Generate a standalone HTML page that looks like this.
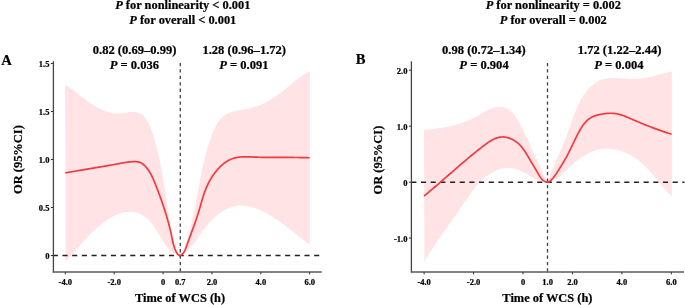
<!DOCTYPE html>
<html><head><meta charset="utf-8"><style>
html,body{margin:0;padding:0;background:#fff;}
body{width:685px;height:305px;overflow:hidden;}
svg{display:block;will-change:transform;}
text{font-family:"Liberation Serif",serif;font-weight:bold;fill:#000;stroke:#000;stroke-width:0.22px;}
</style></head><body>
<svg width="685" height="305" viewBox="0 0 685 305">
<path d="M65.20,84.30L65.80,84.71L66.40,85.13L67.00,85.56L67.60,85.98L68.20,86.42L68.80,86.85L69.40,87.29L70.00,87.74L70.59,88.18L71.19,88.63L71.79,89.09L72.39,89.54L72.98,90.00L73.58,90.46L74.18,90.92L74.78,91.39L75.37,91.85L75.97,92.32L76.57,92.79L77.17,93.26L77.77,93.73L78.37,94.20L78.97,94.67L79.57,95.14L80.17,95.61L80.78,96.07L81.38,96.54L81.99,97.01L82.59,97.48L83.20,97.94L83.81,98.40L84.42,98.86L85.03,99.32L85.65,99.78L86.26,100.23L86.88,100.68L87.50,101.12L88.12,101.57L88.74,102.01L89.36,102.44L89.99,102.88L90.62,103.30L91.25,103.73L91.88,104.14L92.52,104.56L93.15,104.97L93.79,105.37L94.43,105.76L95.08,106.15L95.72,106.54L96.37,106.92L97.03,107.29L97.68,107.65L98.34,108.01L99.00,108.36L99.67,108.70L100.33,109.04L101.00,109.36L101.68,109.68L102.36,109.99L103.04,110.29L103.72,110.58L104.41,110.86L105.10,111.13L105.79,111.39L106.49,111.64L107.19,111.87L107.90,112.09L108.61,112.30L109.32,112.50L110.04,112.68L110.76,112.84L111.49,112.99L112.22,113.13L112.95,113.25L113.69,113.35L114.43,113.44L115.18,113.51L115.93,113.56L116.68,113.59L117.44,113.60L118.20,113.59L118.97,113.57L119.74,113.52L120.52,113.45L121.30,113.37L122.08,113.28L122.87,113.18L123.65,113.07L124.44,112.95L125.22,112.83L126.01,112.71L126.79,112.59L127.57,112.48L128.35,112.37L129.13,112.27L129.90,112.19L130.66,112.11L131.43,112.06L132.18,112.02L132.93,112.00L133.67,112.00L134.40,112.03L135.12,112.08L135.84,112.16L136.54,112.27L137.22,112.40L137.89,112.56L138.55,112.75L139.19,112.97L139.81,113.23L140.42,113.52L141.01,113.85L141.57,114.21L142.12,114.61L142.65,115.04L143.16,115.50L143.65,115.99L144.13,116.50L144.59,117.04L145.04,117.61L145.47,118.19L145.89,118.79L146.29,119.42L146.69,120.05L147.07,120.70L147.44,121.36L147.80,122.04L148.15,122.72L148.50,123.40L148.83,124.09L149.16,124.79L149.48,125.48L149.79,126.18L150.10,126.88L150.40,127.59L150.69,128.29L150.98,129.00L151.26,129.71L151.54,130.43L151.80,131.14L152.07,131.86L152.32,132.58L152.58,133.30L152.82,134.02L153.07,134.75L153.30,135.47L153.54,136.20L153.77,136.93L153.99,137.66L154.21,138.39L154.43,139.12L154.64,139.85L154.85,140.59L155.05,141.32L155.26,142.05L155.46,142.79L155.65,143.53L155.85,144.26L156.04,145.00L156.23,145.73L156.42,146.47L156.60,147.21L156.79,147.94L156.97,148.68L157.15,149.41L157.33,150.15L157.50,150.89L157.68,151.62L157.85,152.36L158.02,153.09L158.19,153.83L158.35,154.57L158.52,155.30L158.68,156.04L158.85,156.77L159.01,157.51L159.16,158.25L159.32,158.98L159.48,159.72L159.63,160.46L159.78,161.19L159.94,161.93L160.09,162.66L160.23,163.40L160.38,164.14L160.53,164.87L160.67,165.61L160.82,166.35L160.96,167.08L161.10,167.82L161.24,168.56L161.38,169.29L161.52,170.03L161.65,170.77L161.79,171.50L161.92,172.24L162.06,172.98L162.19,173.71L162.32,174.45L162.45,175.19L162.58,175.93L162.71,176.66L162.84,177.40L162.96,178.14L163.09,178.88L163.21,179.62L163.34,180.35L163.46,181.09L163.59,181.83L163.71,182.57L163.83,183.31L163.95,184.05L164.08,184.79L164.20,185.53L164.32,186.26L164.44,187.00L164.56,187.74L164.67,188.48L164.79,189.22L164.91,189.96L165.03,190.70L165.15,191.44L165.26,192.18L165.38,192.93L165.50,193.67L165.61,194.41L165.73,195.15L165.85,195.89L165.96,196.63L166.08,197.37L166.20,198.12L166.31,198.86L166.43,199.60L166.54,200.34L166.66,201.09L166.78,201.83L166.89,202.57L167.01,203.32L167.13,204.06L167.24,204.81L167.36,205.55L167.48,206.29L167.60,207.04L167.72,207.78L167.84,208.53L167.95,209.28L168.07,210.02L168.19,210.77L168.31,211.51L168.44,212.26L168.56,213.01L168.68,213.75L168.80,214.50L168.93,215.25L169.05,215.99L169.18,216.74L169.30,217.49L169.43,218.23L169.56,218.98L169.68,219.73L169.81,220.47L169.94,221.22L170.08,221.96L170.21,222.71L170.34,223.45L170.48,224.20L170.61,224.94L170.75,225.69L170.89,226.43L171.03,227.17L171.17,227.92L171.31,228.66L171.46,229.40L171.60,230.14L171.75,230.88L171.90,231.62L172.05,232.36L172.20,233.10L172.35,233.84L172.51,234.58L172.66,235.32L172.82,236.05L172.98,236.79L173.14,237.52L173.31,238.25L173.47,238.99L173.64,239.72L173.81,240.45L173.98,241.18L174.16,241.91L174.33,242.64L174.51,243.36L174.69,244.09L174.88,244.81L175.07,245.53L175.27,246.25L175.48,246.96L175.70,247.66L175.94,248.36L176.19,249.05L176.46,249.74L176.75,250.41L177.07,251.08L177.40,251.73L177.76,252.38L178.15,253.01L178.56,253.63L179.01,254.23L179.49,254.83L180.00,255.40L180.47,254.80L180.92,254.20L181.35,253.58L181.76,252.96L182.16,252.33L182.53,251.69L182.89,251.04L183.23,250.39L183.55,249.73L183.87,249.06L184.17,248.39L184.46,247.71L184.74,247.03L185.01,246.34L185.27,245.65L185.52,244.95L185.77,244.25L186.01,243.54L186.25,242.84L186.49,242.13L186.72,241.42L186.95,240.70L187.17,239.99L187.40,239.27L187.62,238.55L187.83,237.82L188.05,237.10L188.26,236.37L188.47,235.64L188.67,234.91L188.87,234.18L189.07,233.45L189.27,232.72L189.47,231.98L189.66,231.24L189.85,230.51L190.04,229.77L190.22,229.03L190.41,228.29L190.59,227.54L190.77,226.80L190.95,226.06L191.12,225.32L191.30,224.57L191.47,223.83L191.64,223.09L191.81,222.34L191.97,221.60L192.14,220.86L192.30,220.11L192.46,219.37L192.62,218.63L192.78,217.89L192.94,217.14L193.09,216.40L193.25,215.66L193.40,214.92L193.55,214.18L193.70,213.44L193.85,212.70L194.00,211.96L194.15,211.22L194.30,210.48L194.44,209.74L194.59,209.00L194.73,208.27L194.88,207.53L195.02,206.79L195.16,206.05L195.30,205.31L195.44,204.58L195.58,203.84L195.72,203.10L195.86,202.37L195.99,201.63L196.13,200.90L196.27,200.16L196.41,199.42L196.54,198.69L196.68,197.95L196.81,197.22L196.95,196.48L197.08,195.75L197.22,195.01L197.35,194.28L197.49,193.55L197.62,192.81L197.76,192.08L197.89,191.34L198.03,190.61L198.17,189.88L198.30,189.14L198.44,188.41L198.57,187.68L198.71,186.94L198.85,186.21L198.98,185.48L199.12,184.75L199.26,184.01L199.40,183.28L199.54,182.55L199.68,181.81L199.82,181.08L199.96,180.35L200.10,179.62L200.25,178.88L200.39,178.15L200.54,177.42L200.68,176.69L200.83,175.95L200.98,175.22L201.12,174.49L201.27,173.76L201.43,173.02L201.58,172.29L201.73,171.56L201.89,170.83L202.04,170.09L202.20,169.36L202.36,168.63L202.52,167.90L202.68,167.16L202.84,166.43L203.01,165.70L203.17,164.97L203.34,164.23L203.51,163.50L203.68,162.77L203.86,162.03L204.03,161.30L204.21,160.56L204.39,159.83L204.57,159.10L204.75,158.36L204.94,157.63L205.12,156.89L205.31,156.16L205.50,155.43L205.70,154.69L205.89,153.96L206.09,153.22L206.29,152.49L206.49,151.75L206.70,151.01L206.90,150.28L207.11,149.54L207.33,148.81L207.54,148.07L207.76,147.33L207.98,146.60L208.20,145.86L208.43,145.12L208.66,144.38L208.89,143.65L209.12,142.91L209.36,142.17L209.60,141.43L209.84,140.69L210.09,139.95L210.34,139.21L210.59,138.47L210.84,137.73L211.10,136.99L211.37,136.25L211.63,135.52L211.90,134.78L212.18,134.04L212.46,133.31L212.74,132.58L213.03,131.86L213.33,131.13L213.63,130.42L213.94,129.71L214.26,129.00L214.58,128.30L214.91,127.61L215.25,126.92L215.59,126.25L215.95,125.58L216.31,124.92L216.68,124.27L217.06,123.63L217.45,123.00L217.85,122.38L218.26,121.78L218.68,121.18L219.11,120.60L219.55,120.03L220.01,119.48L220.47,118.94L220.95,118.41L221.43,117.90L221.94,117.41L222.45,116.93L222.98,116.47L223.52,116.03L224.07,115.60L224.64,115.19L225.22,114.81L225.82,114.44L226.43,114.09L227.06,113.76L227.70,113.45L228.35,113.16L229.02,112.88L229.69,112.62L230.38,112.37L231.08,112.14L231.78,111.92L232.50,111.71L233.23,111.51L233.96,111.32L234.70,111.14L235.45,110.97L236.20,110.81L236.96,110.66L237.72,110.51L238.49,110.36L239.26,110.22L240.03,110.08L240.81,109.95L241.59,109.82L242.36,109.68L243.14,109.55L243.92,109.42L244.70,109.28L245.48,109.14L246.25,109.00L247.02,108.85L247.79,108.70L248.56,108.54L249.32,108.38L250.07,108.20L250.82,108.02L251.57,107.83L252.31,107.63L253.05,107.43L253.78,107.21L254.50,106.99L255.22,106.76L255.94,106.53L256.65,106.29L257.36,106.04L258.06,105.78L258.76,105.51L259.46,105.24L260.15,104.96L260.84,104.68L261.52,104.39L262.20,104.09L262.87,103.78L263.54,103.47L264.21,103.15L264.88,102.83L265.54,102.50L266.19,102.16L266.85,101.82L267.50,101.47L268.14,101.11L268.79,100.75L269.43,100.38L270.07,100.01L270.70,99.63L271.33,99.25L271.96,98.86L272.59,98.47L273.21,98.07L273.84,97.66L274.46,97.25L275.07,96.84L275.69,96.42L276.30,95.99L276.91,95.56L277.52,95.13L278.12,94.69L278.72,94.25L279.33,93.80L279.93,93.35L280.52,92.89L281.12,92.43L281.72,91.97L282.31,91.50L282.90,91.03L283.49,90.55L284.08,90.07L284.67,89.59L285.26,89.11L285.85,88.62L286.43,88.13L287.02,87.64L287.60,87.15L288.19,86.66L288.78,86.17L289.36,85.68L289.95,85.19L290.54,84.69L291.12,84.20L291.71,83.71L292.30,83.23L292.89,82.74L293.49,82.26L294.08,81.77L294.67,81.30L295.27,80.82L295.87,80.35L296.47,79.88L297.07,79.42L297.68,78.96L298.28,78.50L298.89,78.05L299.51,77.61L300.12,77.17L300.74,76.73L301.36,76.31L301.99,75.89L302.62,75.48L303.25,75.07L303.88,74.67L304.52,74.28L305.17,73.90L305.81,73.53L306.47,73.17L307.12,72.81L307.79,72.47L308.45,72.14L309.12,71.81L309.80,71.50L309.80,244.50L309.15,244.05L308.50,243.60L307.86,243.15L307.23,242.69L306.59,242.24L305.97,241.79L305.34,241.33L304.72,240.88L304.11,240.42L303.50,239.97L302.89,239.51L302.28,239.06L301.68,238.60L301.08,238.15L300.48,237.69L299.89,237.24L299.29,236.78L298.70,236.32L298.12,235.87L297.53,235.41L296.95,234.95L296.36,234.50L295.78,234.04L295.20,233.59L294.62,233.13L294.04,232.68L293.46,232.22L292.88,231.77L292.30,231.31L291.73,230.86L291.15,230.40L290.57,229.95L289.99,229.50L289.41,229.05L288.83,228.59L288.25,228.14L287.67,227.69L287.08,227.24L286.50,226.79L285.91,226.35L285.32,225.90L284.73,225.45L284.14,225.00L283.54,224.56L282.94,224.11L282.34,223.67L281.73,223.23L281.13,222.79L280.52,222.35L279.90,221.91L279.28,221.47L278.66,221.03L278.04,220.60L277.41,220.16L276.77,219.73L276.13,219.30L275.49,218.87L274.84,218.44L274.19,218.01L273.54,217.59L272.88,217.17L272.21,216.75L271.55,216.34L270.88,215.93L270.20,215.52L269.53,215.12L268.85,214.72L268.17,214.33L267.48,213.94L266.79,213.55L266.10,213.18L265.41,212.81L264.71,212.44L264.01,212.08L263.31,211.73L262.61,211.38L261.91,211.05L261.20,210.71L260.49,210.39L259.78,210.08L259.07,209.77L258.36,209.47L257.64,209.18L256.92,208.90L256.21,208.63L255.49,208.37L254.77,208.12L254.05,207.88L253.33,207.65L252.61,207.43L251.88,207.22L251.16,207.03L250.44,206.84L249.72,206.67L248.99,206.50L248.27,206.36L247.55,206.22L246.83,206.10L246.10,205.99L245.38,205.89L244.66,205.81L243.94,205.74L243.22,205.68L242.50,205.64L241.78,205.62L241.07,205.61L240.35,205.61L239.64,205.64L238.92,205.67L238.21,205.73L237.50,205.80L236.80,205.88L236.09,205.99L235.39,206.11L234.68,206.25L233.98,206.40L233.29,206.58L232.59,206.77L231.90,206.97L231.21,207.19L230.52,207.43L229.84,207.68L229.16,207.95L228.48,208.23L227.80,208.53L227.13,208.84L226.46,209.16L225.80,209.50L225.13,209.85L224.48,210.21L223.82,210.58L223.17,210.97L222.52,211.37L221.88,211.78L221.24,212.20L220.60,212.64L219.97,213.08L219.34,213.54L218.72,214.00L218.10,214.47L217.49,214.96L216.88,215.45L216.28,215.95L215.68,216.46L215.08,216.98L214.50,217.50L213.91,218.03L213.33,218.57L212.76,219.12L212.19,219.67L211.63,220.23L211.07,220.80L210.52,221.37L209.98,221.95L209.44,222.53L208.91,223.11L208.38,223.71L207.86,224.30L207.34,224.90L206.84,225.50L206.33,226.11L205.84,226.71L205.35,227.32L204.87,227.94L204.40,228.55L203.93,229.17L203.47,229.79L203.02,230.41L202.57,231.02L202.13,231.64L201.69,232.26L201.27,232.88L200.84,233.50L200.42,234.12L200.00,234.74L199.59,235.36L199.18,235.97L198.76,236.59L198.35,237.20L197.94,237.81L197.53,238.42L197.12,239.02L196.71,239.63L196.30,240.22L195.88,240.82L195.46,241.41L195.04,242.00L194.61,242.58L194.18,243.16L193.74,243.74L193.29,244.30L192.84,244.87L192.38,245.43L191.91,245.98L191.44,246.52L190.95,247.06L190.46,247.60L189.96,248.12L189.44,248.64L188.91,249.16L188.37,249.66L187.82,250.16L187.26,250.64L186.68,251.12L186.09,251.60L185.48,252.06L184.85,252.51L184.21,252.95L183.56,253.39L182.88,253.81L182.19,254.22L181.48,254.63L180.75,255.02L180.00,255.40L180.00,255.40L179.20,255.23L178.42,255.03L177.66,254.81L176.93,254.57L176.22,254.30L175.53,254.00L174.86,253.69L174.21,253.35L173.58,252.99L172.96,252.62L172.37,252.22L171.79,251.80L171.22,251.36L170.68,250.91L170.14,250.44L169.62,249.95L169.12,249.45L168.62,248.93L168.14,248.40L167.66,247.85L167.20,247.29L166.75,246.72L166.30,246.14L165.87,245.54L165.44,244.94L165.01,244.32L164.59,243.70L164.18,243.07L163.77,242.43L163.36,241.78L162.96,241.13L162.56,240.47L162.16,239.80L161.76,239.13L161.35,238.46L160.95,237.78L160.55,237.10L160.15,236.42L159.75,235.74L159.34,235.05L158.93,234.37L158.52,233.69L158.11,233.00L157.70,232.32L157.28,231.64L156.86,230.96L156.43,230.29L156.01,229.62L155.57,228.95L155.14,228.29L154.69,227.63L154.25,226.98L153.80,226.34L153.34,225.70L152.87,225.07L152.40,224.45L151.93,223.84L151.44,223.23L150.95,222.64L150.46,222.05L149.95,221.48L149.44,220.92L148.92,220.37L148.39,219.84L147.85,219.32L147.30,218.81L146.74,218.31L146.18,217.84L145.60,217.37L145.01,216.93L144.41,216.50L143.81,216.08L143.19,215.69L142.56,215.31L141.92,214.95L141.27,214.61L140.62,214.29L139.95,213.98L139.28,213.70L138.60,213.43L137.92,213.18L137.23,212.95L136.53,212.74L135.83,212.56L135.13,212.39L134.42,212.24L133.71,212.11L133.00,212.00L132.28,211.91L131.57,211.84L130.85,211.79L130.13,211.76L129.41,211.75L128.70,211.77L127.98,211.80L127.26,211.85L126.54,211.93L125.83,212.02L125.11,212.12L124.40,212.25L123.68,212.39L122.97,212.55L122.26,212.73L121.54,212.92L120.84,213.13L120.13,213.36L119.42,213.60L118.72,213.85L118.01,214.12L117.31,214.40L116.61,214.69L115.92,215.00L115.22,215.32L114.53,215.65L113.84,216.00L113.15,216.35L112.47,216.72L111.79,217.09L111.11,217.48L110.44,217.87L109.76,218.28L109.10,218.69L108.43,219.11L107.77,219.55L107.11,219.98L106.46,220.43L105.81,220.88L105.17,221.34L104.53,221.80L103.89,222.27L103.26,222.75L102.64,223.23L102.01,223.71L101.40,224.20L100.79,224.69L100.18,225.19L99.58,225.68L98.98,226.18L98.39,226.68L97.81,227.19L97.23,227.69L96.65,228.20L96.09,228.71L95.52,229.22L94.96,229.74L94.41,230.25L93.86,230.77L93.31,231.29L92.77,231.81L92.23,232.33L91.69,232.85L91.16,233.38L90.63,233.91L90.11,234.43L89.59,234.96L89.07,235.50L88.56,236.03L88.04,236.56L87.54,237.10L87.03,237.64L86.52,238.18L86.02,238.72L85.52,239.26L85.02,239.80L84.53,240.34L84.03,240.89L83.54,241.44L83.05,241.98L82.56,242.53L82.07,243.08L81.58,243.64L81.10,244.19L80.61,244.74L80.12,245.30L79.64,245.85L79.15,246.41L78.67,246.97L78.18,247.53L77.70,248.09L77.21,248.65L76.73,249.21L76.24,249.77L75.75,250.33L75.26,250.90L74.77,251.46L74.28,252.03L73.79,252.59L73.30,253.16L72.80,253.73L72.31,254.29L71.81,254.86L71.31,255.43L70.81,256.00L70.30,256.57L69.80,257.14L69.29,257.72L68.77,258.29L68.26,258.86L67.74,259.43L67.22,260.00L66.69,260.58L66.17,261.15L65.63,261.73Z" fill="#ffe3e5"/>
<path d="M424.00,129.90L424.78,129.83L425.56,129.76L426.33,129.69L427.10,129.61L427.87,129.54L428.64,129.46L429.41,129.38L430.18,129.30L430.94,129.22L431.70,129.14L432.46,129.05L433.22,128.96L433.98,128.87L434.73,128.78L435.48,128.68L436.23,128.59L436.98,128.49L437.73,128.39L438.48,128.28L439.22,128.17L439.97,128.06L440.71,127.95L441.45,127.83L442.18,127.71L442.92,127.59L443.66,127.47L444.39,127.34L445.12,127.20L445.85,127.07L446.58,126.93L447.31,126.79L448.04,126.64L448.76,126.49L449.49,126.33L450.21,126.17L450.93,126.01L451.65,125.84L452.37,125.67L453.08,125.50L453.80,125.32L454.52,125.13L455.23,124.94L455.94,124.75L456.65,124.55L457.36,124.35L458.07,124.14L458.78,123.93L459.49,123.71L460.19,123.48L460.90,123.26L461.60,123.02L462.30,122.78L463.00,122.54L463.70,122.28L464.40,122.03L465.10,121.77L465.80,121.50L466.50,121.22L467.19,120.94L467.89,120.66L468.58,120.36L469.28,120.07L469.97,119.76L470.66,119.45L471.35,119.13L472.04,118.81L472.73,118.48L473.42,118.14L474.11,117.79L474.80,117.44L475.49,117.08L476.17,116.71L476.86,116.34L477.54,115.96L478.23,115.57L478.91,115.18L479.60,114.79L480.28,114.39L480.97,113.99L481.65,113.59L482.33,113.19L483.02,112.80L483.70,112.40L484.39,112.02L485.08,111.63L485.76,111.26L486.45,110.89L487.14,110.53L487.83,110.18L488.52,109.85L489.21,109.52L489.91,109.21L490.60,108.91L491.30,108.64L492.00,108.37L492.70,108.13L493.40,107.91L494.10,107.70L494.81,107.52L495.52,107.36L496.23,107.23L496.94,107.12L497.66,107.04L498.37,106.98L499.09,106.95L499.80,106.95L500.51,106.97L501.22,107.02L501.92,107.09L502.62,107.20L503.31,107.32L503.99,107.48L504.67,107.66L505.33,107.88L505.98,108.11L506.63,108.38L507.26,108.68L507.87,109.00L508.48,109.35L509.06,109.73L509.64,110.13L510.20,110.56L510.75,111.01L511.29,111.48L511.82,111.97L512.33,112.49L512.84,113.02L513.33,113.58L513.82,114.15L514.29,114.73L514.75,115.34L515.21,115.95L515.65,116.58L516.09,117.23L516.52,117.88L516.94,118.55L517.35,119.22L517.76,119.90L518.16,120.59L518.55,121.29L518.94,121.99L519.32,122.69L519.69,123.40L520.07,124.11L520.43,124.83L520.79,125.54L521.15,126.25L521.50,126.96L521.85,127.67L522.20,128.37L522.55,129.07L522.89,129.77L523.23,130.46L523.56,131.15L523.90,131.84L524.23,132.53L524.56,133.21L524.88,133.90L525.21,134.57L525.53,135.25L525.86,135.93L526.18,136.60L526.49,137.28L526.81,137.95L527.13,138.62L527.44,139.29L527.75,139.96L528.07,140.63L528.38,141.30L528.69,141.97L529.00,142.64L529.31,143.31L529.62,143.98L529.93,144.65L530.24,145.32L530.55,145.99L530.86,146.66L531.17,147.34L531.48,148.01L531.79,148.69L532.10,149.37L532.41,150.04L532.72,150.72L533.03,151.40L533.34,152.09L533.65,152.77L533.96,153.45L534.27,154.13L534.58,154.82L534.90,155.50L535.21,156.19L535.52,156.88L535.83,157.56L536.15,158.25L536.46,158.94L536.77,159.63L537.09,160.31L537.40,161.00L537.72,161.69L538.03,162.38L538.35,163.07L538.66,163.76L538.98,164.45L539.29,165.14L539.61,165.82L539.92,166.51L540.24,167.20L540.56,167.89L540.88,168.58L541.19,169.27L541.51,169.95L541.83,170.64L542.15,171.33L542.47,172.01L542.79,172.70L543.11,173.38L543.43,174.07L543.75,174.75L544.07,175.43L544.39,176.11L544.71,176.79L545.03,177.47L545.36,178.15L545.68,178.83L546.00,179.51L546.33,180.18L546.65,180.86L546.97,181.53L547.30,182.20L547.60,181.49L547.91,180.77L548.21,180.06L548.51,179.35L548.81,178.64L549.11,177.94L549.42,177.23L549.72,176.53L550.02,175.82L550.32,175.12L550.62,174.42L550.92,173.72L551.21,173.02L551.51,172.33L551.81,171.63L552.11,170.93L552.40,170.24L552.70,169.55L553.00,168.85L553.29,168.16L553.59,167.47L553.88,166.78L554.17,166.09L554.47,165.40L554.76,164.71L555.05,164.03L555.34,163.34L555.64,162.65L555.93,161.97L556.22,161.28L556.51,160.60L556.80,159.91L557.09,159.23L557.37,158.54L557.66,157.86L557.95,157.17L558.24,156.49L558.52,155.80L558.81,155.12L559.09,154.43L559.38,153.75L559.66,153.07L559.95,152.38L560.23,151.70L560.51,151.01L560.79,150.33L561.07,149.64L561.35,148.95L561.63,148.27L561.91,147.58L562.19,146.89L562.47,146.21L562.75,145.52L563.03,144.83L563.30,144.14L563.58,143.45L563.85,142.76L564.13,142.06L564.40,141.37L564.67,140.68L564.95,139.98L565.22,139.29L565.49,138.59L565.76,137.89L566.03,137.20L566.30,136.50L566.57,135.79L566.84,135.09L567.10,134.39L567.37,133.68L567.64,132.98L567.90,132.27L568.17,131.56L568.43,130.85L568.69,130.14L568.96,129.42L569.22,128.71L569.48,127.99L569.74,127.27L570.00,126.55L570.26,125.83L570.52,125.11L570.78,124.39L571.03,123.66L571.29,122.93L571.55,122.21L571.81,121.48L572.07,120.75L572.33,120.02L572.60,119.30L572.86,118.57L573.12,117.84L573.39,117.11L573.66,116.39L573.93,115.66L574.20,114.93L574.47,114.21L574.75,113.49L575.03,112.77L575.31,112.05L575.59,111.33L575.88,110.61L576.17,109.90L576.46,109.19L576.76,108.48L577.06,107.77L577.37,107.07L577.68,106.36L577.99,105.67L578.31,104.97L578.63,104.28L578.96,103.59L579.29,102.91L579.63,102.23L579.97,101.55L580.32,100.88L580.67,100.21L581.03,99.55L581.40,98.89L581.77,98.24L582.15,97.59L582.53,96.95L582.92,96.31L583.32,95.68L583.73,95.05L584.14,94.43L584.56,93.81L584.99,93.21L585.42,92.60L585.86,92.01L586.31,91.42L586.77,90.84L587.24,90.26L587.72,89.70L588.20,89.14L588.69,88.58L589.20,88.04L589.71,87.50L590.23,86.97L590.76,86.46L591.29,85.95L591.84,85.45L592.40,84.97L592.96,84.50L593.54,84.04L594.12,83.59L594.71,83.16L595.31,82.75L595.92,82.35L596.54,81.97L597.16,81.60L597.80,81.26L598.44,80.93L599.09,80.62L599.76,80.33L600.42,80.06L601.10,79.81L601.79,79.58L602.48,79.37L603.19,79.18L603.89,79.01L604.61,78.85L605.33,78.71L606.06,78.59L606.79,78.48L607.53,78.38L608.27,78.30L609.02,78.23L609.77,78.18L610.52,78.13L611.28,78.10L612.04,78.07L612.81,78.06L613.57,78.05L614.34,78.05L615.11,78.06L615.88,78.07L616.66,78.09L617.43,78.12L618.20,78.15L618.97,78.18L619.74,78.21L620.51,78.25L621.28,78.29L622.05,78.33L622.82,78.38L623.59,78.42L624.36,78.46L625.12,78.51L625.89,78.55L626.65,78.59L627.41,78.63L628.18,78.67L628.94,78.70L629.70,78.73L630.46,78.76L631.22,78.79L631.97,78.81L632.73,78.82L633.48,78.83L634.24,78.84L634.99,78.83L635.74,78.82L636.49,78.81L637.24,78.79L637.99,78.76L638.74,78.72L639.48,78.67L640.22,78.61L640.97,78.55L641.71,78.47L642.45,78.38L643.19,78.28L643.92,78.18L644.66,78.06L645.40,77.94L646.13,77.81L646.86,77.67L647.60,77.53L648.33,77.37L649.06,77.22L649.79,77.05L650.52,76.88L651.25,76.71L651.98,76.53L652.71,76.35L653.44,76.16L654.17,75.97L654.90,75.78L655.63,75.58L656.35,75.39L657.08,75.19L657.81,74.99L658.54,74.79L659.27,74.59L660.00,74.39L660.73,74.20L661.46,74.00L662.20,73.80L662.93,73.61L663.66,73.42L664.40,73.23L665.13,73.04L665.87,72.86L666.60,72.69L667.34,72.51L668.08,72.35L668.82,72.18L669.56,72.03L670.31,71.88L671.05,71.74L671.80,71.60L671.80,196.20L671.25,195.69L670.71,195.18L670.17,194.66L669.63,194.14L669.10,193.61L668.57,193.08L668.05,192.54L667.53,192.00L667.01,191.45L666.50,190.90L665.99,190.35L665.49,189.79L664.98,189.23L664.48,188.66L663.99,188.10L663.49,187.53L663.00,186.95L662.51,186.38L662.02,185.80L661.53,185.22L661.04,184.64L660.56,184.05L660.08,183.47L659.59,182.88L659.11,182.29L658.63,181.70L658.15,181.12L657.67,180.53L657.19,179.94L656.71,179.35L656.22,178.76L655.74,178.17L655.26,177.58L654.78,176.99L654.29,176.40L653.81,175.82L653.32,175.23L652.83,174.65L652.34,174.07L651.85,173.49L651.35,172.91L650.85,172.33L650.36,171.76L649.85,171.19L649.35,170.63L648.84,170.06L648.33,169.50L647.81,168.94L647.30,168.39L646.77,167.84L646.25,167.30L645.72,166.76L645.18,166.22L644.64,165.69L644.10,165.16L643.55,164.64L643.00,164.13L642.44,163.62L641.88,163.11L641.31,162.61L640.73,162.12L640.15,161.63L639.56,161.15L638.97,160.68L638.37,160.22L637.76,159.76L637.15,159.31L636.53,158.86L635.90,158.42L635.27,158.00L634.63,157.58L633.99,157.16L633.34,156.76L632.69,156.36L632.03,155.97L631.36,155.59L630.69,155.22L630.02,154.86L629.34,154.51L628.66,154.16L627.97,153.83L627.28,153.50L626.58,153.19L625.89,152.88L625.18,152.58L624.48,152.30L623.77,152.02L623.06,151.75L622.34,151.49L621.62,151.25L620.90,151.01L620.18,150.79L619.46,150.57L618.73,150.37L618.00,150.18L617.27,150.00L616.54,149.83L615.80,149.67L615.07,149.53L614.33,149.39L613.59,149.27L612.86,149.16L612.12,149.06L611.38,148.97L610.64,148.90L609.90,148.84L609.16,148.79L608.42,148.76L607.68,148.73L606.94,148.73L606.20,148.73L605.47,148.75L604.73,148.78L603.99,148.82L603.26,148.88L602.53,148.96L601.80,149.04L601.07,149.14L600.34,149.26L599.62,149.39L598.89,149.53L598.17,149.69L597.46,149.87L596.74,150.05L596.03,150.26L595.32,150.47L594.61,150.70L593.90,150.94L593.20,151.19L592.50,151.46L591.81,151.74L591.11,152.03L590.42,152.33L589.73,152.64L589.05,152.96L588.37,153.30L587.69,153.64L587.02,154.00L586.34,154.36L585.68,154.74L585.01,155.12L584.35,155.52L583.69,155.92L583.04,156.33L582.39,156.75L581.74,157.18L581.10,157.61L580.46,158.05L579.83,158.50L579.19,158.96L578.57,159.42L577.94,159.89L577.33,160.37L576.71,160.85L576.10,161.34L575.49,161.83L574.89,162.33L574.29,162.83L573.70,163.34L573.11,163.85L572.53,164.36L571.95,164.88L571.38,165.40L570.81,165.93L570.24,166.46L569.68,166.99L569.13,167.52L568.57,168.06L568.03,168.59L567.48,169.13L566.94,169.66L566.40,170.20L565.86,170.73L565.32,171.26L564.78,171.78L564.24,172.30L563.70,172.82L563.16,173.33L562.62,173.83L562.07,174.33L561.52,174.82L560.97,175.30L560.41,175.78L559.84,176.24L559.27,176.69L558.69,177.13L558.11,177.56L557.52,177.97L556.92,178.38L556.31,178.77L555.69,179.14L555.06,179.50L554.42,179.84L553.77,180.16L553.11,180.47L552.43,180.76L551.74,181.03L551.04,181.28L550.32,181.51L549.59,181.71L548.84,181.90L548.08,182.06L547.30,182.20L547.30,182.20L546.53,182.17L545.76,182.11L545.01,182.03L544.26,181.92L543.52,181.79L542.78,181.63L542.05,181.46L541.33,181.26L540.62,181.04L539.91,180.81L539.20,180.56L538.51,180.29L537.81,180.00L537.12,179.70L536.43,179.39L535.75,179.07L535.07,178.73L534.39,178.39L533.72,178.03L533.05,177.67L532.38,177.30L531.71,176.93L531.04,176.55L530.38,176.16L529.71,175.78L529.05,175.39L528.38,175.00L527.71,174.62L527.05,174.23L526.38,173.85L525.71,173.47L525.04,173.09L524.36,172.73L523.69,172.36L523.01,172.01L522.32,171.66L521.64,171.33L520.95,171.00L520.26,170.69L519.57,170.39L518.87,170.10L518.17,169.83L517.47,169.57L516.76,169.32L516.05,169.09L515.34,168.88L514.62,168.69L513.91,168.51L513.19,168.35L512.46,168.22L511.74,168.10L511.01,168.01L510.28,167.94L509.55,167.89L508.81,167.87L508.07,167.86L507.33,167.88L506.59,167.92L505.85,167.98L505.12,168.06L504.38,168.16L503.64,168.28L502.91,168.42L502.17,168.57L501.45,168.74L500.72,168.93L500.00,169.13L499.28,169.35L498.57,169.58L497.87,169.83L497.17,170.09L496.47,170.36L495.79,170.65L495.11,170.95L494.44,171.26L493.78,171.58L493.12,171.91L492.47,172.26L491.83,172.61L491.20,172.98L490.57,173.36L489.95,173.75L489.33,174.14L488.72,174.55L488.12,174.97L487.52,175.40L486.93,175.83L486.35,176.28L485.77,176.73L485.20,177.20L484.63,177.67L484.07,178.15L483.51,178.64L482.96,179.14L482.41,179.64L481.87,180.15L481.34,180.67L480.81,181.20L480.28,181.73L479.76,182.27L479.24,182.82L478.73,183.37L478.22,183.93L477.71,184.50L477.21,185.07L476.71,185.64L476.22,186.22L475.73,186.81L475.25,187.40L474.76,188.00L474.28,188.60L473.81,189.20L473.34,189.81L472.87,190.42L472.40,191.04L471.93,191.66L471.47,192.28L471.01,192.91L470.56,193.53L470.10,194.17L469.65,194.80L469.20,195.43L468.75,196.07L468.31,196.71L467.86,197.35L467.42,197.99L466.98,198.64L466.54,199.28L466.10,199.93L465.66,200.57L465.23,201.22L464.79,201.86L464.36,202.51L463.93,203.15L463.49,203.80L463.06,204.44L462.63,205.09L462.20,205.73L461.76,206.37L461.33,207.01L460.90,207.65L460.47,208.28L460.04,208.92L459.61,209.55L459.17,210.18L458.74,210.81L458.31,211.43L457.88,212.06L457.44,212.68L457.01,213.30L456.58,213.92L456.15,214.54L455.71,215.16L455.28,215.77L454.85,216.39L454.42,217.00L453.98,217.61L453.55,218.22L453.12,218.84L452.69,219.44L452.26,220.05L451.82,220.66L451.39,221.27L450.96,221.87L450.53,222.48L450.10,223.08L449.67,223.69L449.24,224.29L448.80,224.89L448.37,225.50L447.94,226.10L447.51,226.70L447.09,227.30L446.66,227.90L446.23,228.50L445.80,229.11L445.37,229.71L444.94,230.31L444.52,230.91L444.09,231.51L443.66,232.11L443.24,232.72L442.81,233.32L442.39,233.92L441.96,234.53L441.54,235.13L441.11,235.73L440.69,236.34L440.27,236.95L439.85,237.55L439.42,238.16L439.00,238.77L438.58,239.38L438.16,239.99L437.74,240.60L437.33,241.21L436.91,241.82L436.49,242.44L436.08,243.05L435.66,243.67L435.25,244.29L434.83,244.91L434.42,245.53L434.01,246.16L433.60,246.78L433.18,247.41L432.77,248.03L432.37,248.66L431.96,249.30L431.55,249.93L431.14,250.56L430.74,251.20L430.33,251.84L429.93,252.48L429.53,253.13L429.13,253.77L428.73,254.42L428.33,255.07L427.93,255.72L427.53,256.38L427.13,257.04L426.74,257.70L426.34,258.36L425.95,259.03L425.56,259.70L425.17,260.37L424.78,261.04L424.39,261.72Z" fill="#ffe3e5"/>
<line x1="52.8" y1="255.4" x2="321.0" y2="255.4" stroke="#222" stroke-width="1.5" stroke-dasharray="5.1 4.58"/>
<line x1="180.3" y1="62.9" x2="180.3" y2="271.5" stroke="#404040" stroke-width="1.3" stroke-dasharray="3.3 3.12"/>
<line x1="411.3" y1="182.2" x2="684.5" y2="182.2" stroke="#222" stroke-width="1.5" stroke-dasharray="5.1 4.58"/>
<line x1="547.5" y1="62.9" x2="547.5" y2="271.5" stroke="#404040" stroke-width="1.3" stroke-dasharray="3.3 3.12"/>
<path d="M65.30,172.90L66.04,172.77L66.78,172.64L67.52,172.51L68.26,172.38L69.01,172.25L69.75,172.12L70.49,171.99L71.23,171.86L71.97,171.73L72.71,171.60L73.45,171.47L74.20,171.35L74.94,171.22L75.68,171.09L76.42,170.97L77.16,170.84L77.91,170.71L78.65,170.59L79.39,170.46L80.13,170.33L80.87,170.21L81.62,170.08L82.36,169.96L83.10,169.83L83.84,169.71L84.59,169.58L85.33,169.46L86.07,169.33L86.81,169.21L87.55,169.08L88.30,168.96L89.04,168.83L89.78,168.71L90.52,168.58L91.27,168.46L92.01,168.34L92.75,168.21L93.49,168.09L94.24,167.96L94.98,167.83L95.72,167.71L96.46,167.58L97.20,167.46L97.95,167.33L98.69,167.21L99.43,167.08L100.17,166.95L100.91,166.83L101.66,166.70L102.40,166.57L103.14,166.45L103.88,166.32L104.62,166.19L105.36,166.06L106.11,165.93L106.85,165.80L107.59,165.67L108.33,165.55L109.07,165.41L109.81,165.28L110.55,165.15L111.30,165.02L112.04,164.89L112.78,164.76L113.52,164.63L114.26,164.49L115.00,164.36L115.74,164.22L116.48,164.09L117.22,163.95L117.96,163.82L118.70,163.68L119.44,163.54L120.18,163.41L120.92,163.27L121.66,163.13L122.40,162.99L123.14,162.86L123.88,162.73L124.62,162.60L125.36,162.48L126.11,162.36L126.85,162.25L127.59,162.14L128.34,162.05L129.09,161.96L129.84,161.88L130.58,161.81L131.34,161.75L132.09,161.71L132.84,161.67L133.60,161.65L134.36,161.65L135.12,161.66L135.88,161.69L136.64,161.74L137.39,161.82L138.14,161.94L138.86,162.09L139.58,162.30L140.27,162.55L140.94,162.85L141.60,163.21L142.23,163.60L142.84,164.03L143.43,164.50L144.00,165.00L144.56,165.52L145.10,166.07L145.62,166.63L146.13,167.20L146.61,167.78L147.09,168.37L147.55,168.96L147.99,169.57L148.43,170.18L148.84,170.80L149.25,171.43L149.64,172.07L150.03,172.71L150.40,173.35L150.76,174.01L151.12,174.67L151.46,175.33L151.80,176.00L152.13,176.67L152.45,177.35L152.76,178.03L153.07,178.71L153.37,179.40L153.67,180.09L153.96,180.78L154.25,181.48L154.54,182.17L154.82,182.87L155.10,183.57L155.38,184.27L155.66,184.97L155.94,185.67L156.22,186.37L156.49,187.07L156.77,187.78L157.04,188.48L157.31,189.18L157.59,189.89L157.85,190.59L158.12,191.30L158.39,192.00L158.66,192.71L158.92,193.42L159.18,194.12L159.45,194.83L159.71,195.54L159.97,196.25L160.22,196.96L160.48,197.67L160.73,198.38L160.99,199.09L161.24,199.80L161.49,200.51L161.74,201.22L161.99,201.94L162.23,202.65L162.48,203.36L162.72,204.08L162.96,204.79L163.20,205.51L163.44,206.22L163.68,206.94L163.91,207.66L164.14,208.37L164.37,209.09L164.60,209.81L164.83,210.52L165.06,211.24L165.28,211.96L165.50,212.68L165.73,213.40L165.94,214.12L166.16,214.84L166.38,215.56L166.59,216.28L166.80,217.00L167.01,217.73L167.22,218.45L167.43,219.17L167.63,219.89L167.83,220.62L168.03,221.34L168.23,222.06L168.42,222.79L168.62,223.51L168.81,224.24L169.00,224.96L169.19,225.69L169.37,226.42L169.56,227.14L169.74,227.87L169.92,228.59L170.09,229.32L170.27,230.05L170.44,230.78L170.61,231.50L170.78,232.23L170.94,232.96L171.11,233.69L171.27,234.42L171.42,235.15L171.58,235.88L171.74,236.61L171.89,237.34L172.04,238.07L172.19,238.80L172.34,239.53L172.49,240.26L172.65,240.99L172.81,241.73L172.98,242.46L173.16,243.19L173.35,243.93L173.55,244.66L173.76,245.40L173.98,246.13L174.22,246.87L174.48,247.61L174.75,248.35L175.04,249.09L175.35,249.83L175.67,250.57L176.02,251.31L176.39,252.06L176.77,252.80L177.19,253.51L177.64,254.15L178.13,254.68L178.66,255.08L179.24,255.33L179.84,255.41L180.45,255.30L181.07,255.04L181.67,254.66L182.24,254.20L182.76,253.69L183.24,253.14L183.68,252.55L184.09,251.93L184.46,251.28L184.81,250.60L185.13,249.90L185.43,249.19L185.72,248.46L185.99,247.72L186.26,246.98L186.53,246.23L186.79,245.49L187.05,244.75L187.31,244.01L187.58,243.28L187.84,242.55L188.11,241.82L188.37,241.09L188.63,240.37L188.90,239.64L189.16,238.92L189.42,238.21L189.69,237.49L189.95,236.77L190.21,236.06L190.47,235.35L190.73,234.64L191.00,233.93L191.26,233.22L191.52,232.52L191.78,231.81L192.03,231.11L192.29,230.40L192.55,229.70L192.81,229.00L193.06,228.30L193.32,227.60L193.57,226.90L193.82,226.20L194.07,225.50L194.32,224.80L194.57,224.10L194.82,223.40L195.07,222.70L195.31,222.00L195.56,221.30L195.80,220.60L196.04,219.90L196.28,219.20L196.52,218.50L196.75,217.79L196.99,217.09L197.22,216.38L197.45,215.68L197.68,214.97L197.91,214.26L198.13,213.55L198.36,212.84L198.58,212.12L198.80,211.41L199.01,210.69L199.23,209.97L199.44,209.25L199.65,208.52L199.86,207.80L200.07,207.07L200.28,206.34L200.48,205.62L200.69,204.89L200.90,204.16L201.10,203.43L201.31,202.70L201.52,201.96L201.72,201.23L201.94,200.50L202.15,199.77L202.36,199.05L202.58,198.32L202.80,197.59L203.02,196.87L203.25,196.14L203.48,195.42L203.71,194.70L203.95,193.98L204.19,193.27L204.44,192.56L204.70,191.85L204.96,191.14L205.22,190.44L205.49,189.74L205.77,189.04L206.06,188.35L206.35,187.66L206.64,186.97L206.95,186.29L207.26,185.61L207.57,184.93L207.90,184.26L208.23,183.59L208.56,182.92L208.91,182.26L209.26,181.60L209.62,180.94L209.98,180.29L210.36,179.64L210.74,178.99L211.12,178.35L211.52,177.71L211.92,177.07L212.33,176.44L212.75,175.81L213.17,175.18L213.61,174.56L214.05,173.94L214.50,173.32L214.96,172.71L215.42,172.10L215.90,171.50L216.38,170.90L216.86,170.31L217.36,169.73L217.87,169.15L218.38,168.59L218.90,168.02L219.43,167.47L219.96,166.93L220.50,166.40L221.05,165.87L221.61,165.36L222.18,164.86L222.75,164.37L223.33,163.89L223.92,163.43L224.51,162.98L225.12,162.54L225.73,162.11L226.34,161.70L226.97,161.31L227.60,160.93L228.24,160.56L228.89,160.22L229.54,159.89L230.20,159.57L230.87,159.28L231.54,159.00L232.23,158.74L232.92,158.50L233.61,158.29L234.32,158.09L235.02,157.90L235.74,157.74L236.46,157.59L237.19,157.45L237.92,157.34L238.66,157.23L239.40,157.14L240.14,157.06L240.89,157.00L241.65,156.95L242.40,156.90L243.16,156.87L243.92,156.85L244.69,156.83L245.46,156.82L246.23,156.82L247.00,156.83L247.77,156.84L248.54,156.86L249.32,156.88L250.09,156.91L250.87,156.93L251.64,156.96L252.41,157.00L253.19,157.03L253.96,157.06L254.73,157.09L255.50,157.12L256.27,157.15L257.04,157.18L257.80,157.20L258.57,157.23L259.33,157.25L260.09,157.27L260.85,157.29L261.60,157.31L262.36,157.33L263.12,157.34L263.87,157.36L264.62,157.37L265.38,157.38L266.13,157.39L266.88,157.40L267.63,157.41L268.37,157.42L269.12,157.43L269.87,157.43L270.61,157.44L271.36,157.44L272.10,157.45L272.85,157.45L273.59,157.45L274.33,157.45L275.08,157.46L275.82,157.46L276.56,157.46L277.30,157.46L278.04,157.46L278.78,157.46L279.52,157.46L280.27,157.46L281.01,157.46L281.75,157.46L282.49,157.46L283.23,157.45L283.97,157.45L284.71,157.45L285.45,157.45L286.19,157.45L286.94,157.45L287.68,157.45L288.42,157.45L289.16,157.45L289.91,157.46L290.65,157.46L291.40,157.46L292.14,157.46L292.89,157.47L293.64,157.47L294.39,157.48L295.14,157.48L295.89,157.49L296.64,157.50L297.39,157.50L298.14,157.51L298.90,157.52L299.65,157.54L300.41,157.55L301.17,157.56L301.92,157.58L302.69,157.59L303.45,157.61L304.21,157.63L304.98,157.65L305.74,157.67L306.51,157.69L307.28,157.72L308.05,157.74L308.82,157.77L309.60,157.80" fill="none" stroke="#f53a3e" stroke-width="1.7" stroke-linejoin="round"/>
<path d="M424.00,196.00L424.60,195.52L425.19,195.03L425.78,194.55L426.37,194.06L426.96,193.58L427.55,193.09L428.14,192.60L428.73,192.12L429.31,191.63L429.89,191.15L430.48,190.66L431.06,190.17L431.64,189.68L432.22,189.20L432.79,188.71L433.37,188.22L433.95,187.73L434.52,187.24L435.10,186.75L435.67,186.26L436.24,185.77L436.81,185.28L437.38,184.80L437.95,184.31L438.52,183.82L439.09,183.33L439.66,182.84L440.22,182.35L440.79,181.85L441.36,181.36L441.92,180.87L442.49,180.38L443.05,179.89L443.62,179.40L444.18,178.91L444.74,178.42L445.31,177.93L445.87,177.44L446.43,176.95L446.99,176.46L447.55,175.97L448.12,175.48L448.68,174.99L449.24,174.49L449.80,174.00L450.36,173.51L450.92,173.02L451.49,172.53L452.05,172.04L452.61,171.55L453.17,171.06L453.73,170.57L454.30,170.08L454.86,169.59L455.42,169.10L455.98,168.61L456.55,168.12L457.11,167.64L457.67,167.15L458.24,166.66L458.80,166.17L459.37,165.68L459.94,165.19L460.50,164.71L461.07,164.22L461.64,163.73L462.21,163.24L462.78,162.76L463.35,162.27L463.92,161.78L464.49,161.30L465.06,160.81L465.63,160.33L466.21,159.84L466.78,159.36L467.36,158.87L467.94,158.39L468.52,157.91L469.10,157.42L469.68,156.94L470.26,156.46L470.84,155.98L471.42,155.49L472.01,155.01L472.60,154.53L473.18,154.05L473.77,153.57L474.36,153.09L474.96,152.62L475.55,152.14L476.14,151.66L476.74,151.18L477.34,150.70L477.94,150.23L478.54,149.75L479.14,149.28L479.75,148.80L480.35,148.33L480.96,147.85L481.57,147.38L482.18,146.91L482.79,146.44L483.41,145.97L484.03,145.50L484.65,145.03L485.27,144.56L485.89,144.10L486.52,143.64L487.14,143.19L487.78,142.75L488.41,142.31L489.05,141.89L489.69,141.47L490.33,141.07L490.98,140.68L491.63,140.30L492.28,139.94L492.94,139.59L493.60,139.26L494.26,138.94L494.93,138.65L495.61,138.38L496.28,138.12L496.97,137.89L497.65,137.68L498.34,137.50L499.04,137.34L499.74,137.21L500.45,137.10L501.16,137.02L501.87,136.98L502.60,136.96L503.32,136.97L504.06,137.02L504.79,137.10L505.53,137.20L506.27,137.34L507.01,137.50L507.75,137.69L508.48,137.90L509.22,138.14L509.94,138.41L510.66,138.69L511.38,139.01L512.08,139.34L512.78,139.69L513.47,140.06L514.14,140.45L514.80,140.86L515.45,141.29L516.08,141.73L516.69,142.19L517.29,142.66L517.87,143.15L518.44,143.65L518.99,144.17L519.53,144.69L520.05,145.23L520.57,145.78L521.07,146.34L521.56,146.91L522.04,147.49L522.50,148.08L522.96,148.68L523.41,149.29L523.85,149.90L524.28,150.52L524.71,151.14L525.13,151.77L525.54,152.41L525.94,153.05L526.34,153.69L526.74,154.33L527.13,154.98L527.52,155.63L527.90,156.28L528.29,156.93L528.67,157.58L529.05,158.23L529.43,158.88L529.81,159.53L530.19,160.17L530.57,160.82L530.95,161.46L531.33,162.10L531.71,162.74L532.09,163.37L532.47,164.01L532.85,164.65L533.24,165.29L533.62,165.92L534.00,166.56L534.39,167.20L534.77,167.84L535.15,168.49L535.54,169.13L535.92,169.78L536.30,170.43L536.69,171.08L537.07,171.74L537.45,172.40L537.84,173.07L538.22,173.74L538.60,174.41L538.99,175.08L539.39,175.75L539.79,176.41L540.21,177.06L540.65,177.69L541.10,178.30L541.58,178.88L542.09,179.44L542.62,179.96L543.19,180.45L543.80,180.90L544.44,181.30L545.12,181.65L545.82,181.92L546.53,182.11L547.24,182.20L547.95,182.16L548.63,182.00L549.29,181.68L549.91,181.23L550.51,180.68L551.09,180.08L551.65,179.49L552.20,178.89L552.73,178.31L553.25,177.72L553.74,177.13L554.22,176.53L554.68,175.93L555.13,175.33L555.56,174.72L555.98,174.11L556.40,173.49L556.80,172.87L557.20,172.25L557.59,171.62L557.99,170.99L558.38,170.36L558.77,169.73L559.17,169.10L559.57,168.47L559.97,167.83L560.37,167.19L560.77,166.56L561.16,165.92L561.56,165.28L561.96,164.63L562.36,163.99L562.75,163.34L563.14,162.69L563.53,162.05L563.92,161.40L564.31,160.74L564.69,160.09L565.07,159.43L565.44,158.78L565.81,158.12L566.18,157.46L566.54,156.79L566.90,156.13L567.25,155.47L567.60,154.80L567.95,154.13L568.29,153.46L568.64,152.79L568.97,152.12L569.31,151.45L569.64,150.78L569.98,150.10L570.31,149.43L570.64,148.75L570.96,148.08L571.29,147.40L571.61,146.72L571.94,146.04L572.26,145.37L572.59,144.69L572.91,144.01L573.23,143.33L573.56,142.65L573.88,141.97L574.21,141.29L574.53,140.61L574.86,139.93L575.19,139.25L575.52,138.57L575.85,137.89L576.19,137.21L576.53,136.54L576.86,135.86L577.21,135.18L577.55,134.51L577.90,133.83L578.25,133.16L578.61,132.48L578.97,131.81L579.33,131.14L579.70,130.48L580.08,129.82L580.46,129.16L580.85,128.51L581.25,127.87L581.65,127.23L582.06,126.60L582.48,125.98L582.91,125.37L583.35,124.77L583.80,124.18L584.26,123.60L584.73,123.03L585.22,122.47L585.71,121.93L586.22,121.40L586.74,120.89L587.27,120.39L587.82,119.90L588.38,119.44L588.96,118.99L589.55,118.56L590.15,118.14L590.78,117.75L591.42,117.37L592.08,117.02L592.75,116.69L593.44,116.38L594.16,116.09L594.88,115.82L595.63,115.58L596.38,115.35L597.15,115.14L597.92,114.94L598.69,114.76L599.46,114.59L600.24,114.43L601.00,114.27L601.77,114.13L602.53,113.99L603.29,113.87L604.04,113.75L604.79,113.65L605.54,113.55L606.29,113.47L607.03,113.40L607.77,113.34L608.51,113.30L609.25,113.26L609.98,113.25L610.71,113.24L611.44,113.25L612.17,113.28L612.90,113.32L613.62,113.38L614.35,113.45L615.07,113.54L615.79,113.65L616.51,113.77L617.24,113.92L617.95,114.07L618.67,114.25L619.39,114.43L620.11,114.63L620.82,114.85L621.54,115.07L622.25,115.31L622.97,115.55L623.68,115.81L624.39,116.07L625.10,116.35L625.81,116.63L626.52,116.91L627.23,117.20L627.94,117.50L628.65,117.80L629.35,118.10L630.06,118.41L630.76,118.72L631.47,119.02L632.17,119.33L632.87,119.64L633.57,119.94L634.27,120.25L634.97,120.55L635.67,120.85L636.37,121.15L637.07,121.45L637.77,121.75L638.46,122.04L639.16,122.33L639.86,122.62L640.55,122.91L641.25,123.20L641.95,123.49L642.64,123.78L643.34,124.06L644.03,124.34L644.73,124.62L645.42,124.90L646.12,125.18L646.81,125.46L647.51,125.73L648.21,126.00L648.90,126.28L649.60,126.55L650.30,126.81L650.99,127.08L651.69,127.35L652.39,127.61L653.09,127.87L653.79,128.14L654.49,128.40L655.19,128.65L655.89,128.91L656.59,129.17L657.30,129.42L658.00,129.67L658.70,129.92L659.41,130.17L660.12,130.42L660.82,130.67L661.53,130.91L662.24,131.16L662.96,131.40L663.67,131.64L664.38,131.88L665.10,132.12L665.81,132.36L666.53,132.59L667.25,132.83L667.97,133.06L668.69,133.29L669.42,133.52L670.14,133.75L670.87,133.97L671.60,134.20" fill="none" stroke="#f53a3e" stroke-width="1.7" stroke-linejoin="round"/>
<line x1="53.4" y1="61.2" x2="53.4" y2="272.59999999999997" stroke="#444" stroke-width="1.3"/>
<line x1="52.8" y1="271.9" x2="321.7" y2="271.9" stroke="#5a5a5a" stroke-width="1.5"/>
<line x1="50.9" y1="63.5" x2="53.4" y2="63.5" stroke="#333" stroke-width="1"/>
<text x="49.4" y="67.1" font-size="8.5" text-anchor="end" >1.5</text>
<line x1="50.9" y1="111.5" x2="53.4" y2="111.5" stroke="#333" stroke-width="1"/>
<text x="49.4" y="115.1" font-size="8.5" text-anchor="end" >1.5</text>
<line x1="50.9" y1="159.5" x2="53.4" y2="159.5" stroke="#333" stroke-width="1"/>
<text x="49.4" y="163.1" font-size="8.5" text-anchor="end" >1.0</text>
<line x1="50.9" y1="207.5" x2="53.4" y2="207.5" stroke="#333" stroke-width="1"/>
<text x="49.4" y="211.1" font-size="8.5" text-anchor="end" >0.5</text>
<line x1="50.9" y1="255.5" x2="53.4" y2="255.5" stroke="#333" stroke-width="1"/>
<text x="49.4" y="259.1" font-size="8.5" text-anchor="end" >0</text>
<line x1="65.3" y1="271.9" x2="65.3" y2="274.4" stroke="#333" stroke-width="1"/>
<text x="65.3" y="284.9" font-size="8.5" text-anchor="middle" >-4.0</text>
<line x1="114.18" y1="271.9" x2="114.18" y2="274.4" stroke="#333" stroke-width="1"/>
<text x="114.18" y="284.9" font-size="8.5" text-anchor="middle" >-2.0</text>
<line x1="163.06" y1="271.9" x2="163.06" y2="274.4" stroke="#333" stroke-width="1"/>
<text x="163.06" y="284.9" font-size="8.5" text-anchor="middle" >0</text>
<line x1="211.94" y1="271.9" x2="211.94" y2="274.4" stroke="#333" stroke-width="1"/>
<text x="211.94" y="284.9" font-size="8.5" text-anchor="middle" >2.0</text>
<line x1="260.82" y1="271.9" x2="260.82" y2="274.4" stroke="#333" stroke-width="1"/>
<text x="260.82" y="284.9" font-size="8.5" text-anchor="middle" >4.0</text>
<line x1="309.70000000000005" y1="271.9" x2="309.70000000000005" y2="274.4" stroke="#333" stroke-width="1"/>
<text x="309.70000000000005" y="284.9" font-size="8.5" text-anchor="middle" >6.0</text>
<text x="180.3" y="284.9" font-size="8.5" text-anchor="middle" >0.7</text>
<line x1="411.4" y1="61.4" x2="411.4" y2="272.59999999999997" stroke="#444" stroke-width="1.3"/>
<line x1="410.79999999999995" y1="271.9" x2="684" y2="271.9" stroke="#5a5a5a" stroke-width="1.5"/>
<line x1="408.9" y1="70.2" x2="411.4" y2="70.2" stroke="#333" stroke-width="1"/>
<text x="407.4" y="73.8" font-size="8.5" text-anchor="end" >2.0</text>
<line x1="408.9" y1="126.2" x2="411.4" y2="126.2" stroke="#333" stroke-width="1"/>
<text x="407.4" y="129.8" font-size="8.5" text-anchor="end" >1.0</text>
<line x1="408.9" y1="182.2" x2="411.4" y2="182.2" stroke="#333" stroke-width="1"/>
<text x="407.4" y="185.79999999999998" font-size="8.5" text-anchor="end" >0</text>
<line x1="408.9" y1="238" x2="411.4" y2="238" stroke="#333" stroke-width="1"/>
<text x="407.4" y="241.6" font-size="8.5" text-anchor="end" >-1.0</text>
<line x1="424.12" y1="271.9" x2="424.12" y2="274.4" stroke="#333" stroke-width="1"/>
<text x="424.12" y="284.9" font-size="8.5" text-anchor="middle" >-4.0</text>
<line x1="473.56" y1="271.9" x2="473.56" y2="274.4" stroke="#333" stroke-width="1"/>
<text x="473.56" y="284.9" font-size="8.5" text-anchor="middle" >-2.0</text>
<line x1="523.0" y1="271.9" x2="523.0" y2="274.4" stroke="#333" stroke-width="1"/>
<text x="523.0" y="284.9" font-size="8.5" text-anchor="middle" >0</text>
<line x1="572.44" y1="271.9" x2="572.44" y2="274.4" stroke="#333" stroke-width="1"/>
<text x="572.44" y="284.9" font-size="8.5" text-anchor="middle" >2.0</text>
<line x1="621.88" y1="271.9" x2="621.88" y2="274.4" stroke="#333" stroke-width="1"/>
<text x="621.88" y="284.9" font-size="8.5" text-anchor="middle" >4.0</text>
<line x1="671.3199999999999" y1="271.9" x2="671.3199999999999" y2="274.4" stroke="#333" stroke-width="1"/>
<text x="671.3199999999999" y="284.9" font-size="8.5" text-anchor="middle" >6.0</text>
<text x="547.6" y="284.9" font-size="8.5" text-anchor="middle" >1.0</text>
<text x="180" y="301.5" font-size="12.4" text-anchor="middle" >Time of WCS (h)</text>
<text x="547.4" y="301.5" font-size="12.4" text-anchor="middle" >Time of WCS (h)</text>
<text transform="translate(22.3,159.6) rotate(-90)" font-size="12.45" text-anchor="middle">OR (95%CI)</text>
<text transform="translate(382.0,160.1) rotate(-90)" font-size="12.45" text-anchor="middle">OR (95%CI)</text>
<text x="1.2" y="65" font-size="14.6" text-anchor="start" >A</text>
<text x="355.8" y="64.4" font-size="14.6" text-anchor="start" >B</text>
<text x="182.8" y="9.1" font-size="12.4" text-anchor="middle" ><tspan font-style="italic">P</tspan> for nonlinearity &lt; 0.001</text>
<text x="182.8" y="23.7" font-size="12.4" text-anchor="middle" ><tspan font-style="italic">P</tspan> for overall &lt; 0.001</text>
<text x="553.3" y="9.1" font-size="12.4" text-anchor="middle" ><tspan font-style="italic">P</tspan> for nonlinearity = 0.002</text>
<text x="553.3" y="23.7" font-size="12.4" text-anchor="middle" ><tspan font-style="italic">P</tspan> for overall = 0.002</text>
<text x="134.6" y="53.9" font-size="12.55" text-anchor="middle" >0.82 (0.69–0.99)</text>
<text x="134.4" y="68.5" font-size="12.55" text-anchor="middle" ><tspan font-style="italic">P</tspan> = 0.036</text>
<text x="244.2" y="53.9" font-size="12.55" text-anchor="middle" >1.28 (0.96–1.72)</text>
<text x="243.8" y="68.5" font-size="12.55" text-anchor="middle" ><tspan font-style="italic">P</tspan> = 0.091</text>
<text x="483.9" y="53.9" font-size="12.55" text-anchor="middle" >0.98 (0.72–1.34)</text>
<text x="484.0" y="68.5" font-size="12.55" text-anchor="middle" ><tspan font-style="italic">P</tspan> = 0.904</text>
<text x="619.6" y="53.9" font-size="12.55" text-anchor="middle" >1.72 (1.22–2.44)</text>
<text x="618.9" y="68.5" font-size="12.55" text-anchor="middle" ><tspan font-style="italic">P</tspan> = 0.004</text>
</svg>
</body></html>
